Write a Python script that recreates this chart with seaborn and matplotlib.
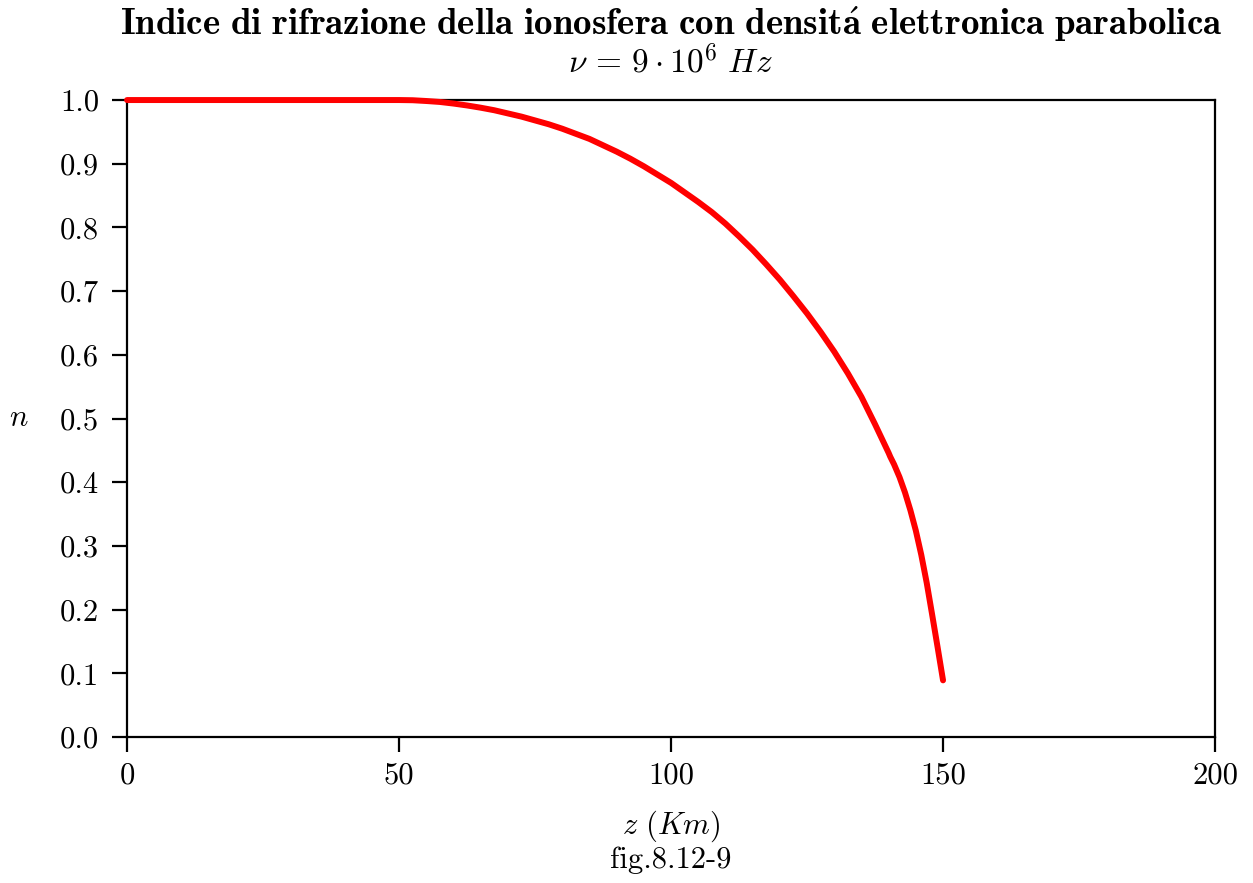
import matplotlib
matplotlib.use("Agg")
import matplotlib.pyplot as plt
import seaborn as sns
import pandas as pd

# Refractive index of the ionosphere vs. height (parabolic electron density)
z_km = [0, 50, 52.5, 55, 57.5, 60, 62.5, 65, 67.5, 70, 72.5, 75, 77.5, 80,
        82.5, 85, 87.5, 90, 92.5, 95, 97.5, 100, 102.5, 105, 107.5, 110,
        112.5, 115, 117.5, 120, 122.5, 125, 127.5, 130, 132.5, 135, 137.5,
        140, 140.3, 141, 142, 143, 144, 145, 146, 147, 148, 149, 150]
n_idx = [1.0, 1.0, 0.9997, 0.9985, 0.997, 0.9945, 0.9915, 0.988, 0.984,
         0.979, 0.974, 0.968, 0.962, 0.955, 0.947, 0.939, 0.929, 0.919,
         0.908, 0.896, 0.883, 0.870, 0.855, 0.840, 0.824, 0.806, 0.786,
         0.765, 0.742, 0.718, 0.692, 0.665, 0.636, 0.605, 0.571, 0.534,
         0.491, 0.446, 0.440, 0.428, 0.408, 0.384, 0.356, 0.324, 0.286,
         0.242, 0.192, 0.141, 0.089]

title = (r"$\mathbf{Indice\ di\ rifrazione\ della\ ionosfera\ con\ "
         r"densit\acute{a}\ elettronica\ parabolica}$")
subtitle = r"$\nu\,=\,9 \cdot 10^6\ Hz$"
xlabel = "$z\\ (Km)$\nfig.8.12-9"
ylabel = "$n$"
x_ticks = [0, 50, 100, 150, 200]
y_ticks = [0.0, 0.1, 0.2, 0.3, 0.4, 0.5, 0.6, 0.7, 0.8, 0.9, 1.0]

sns.set_style("ticks")
plt.rcParams["font.family"] = ["cmr10", "DejaVu Serif"]
plt.rcParams["mathtext.fontset"] = "cm"
plt.rcParams["axes.formatter.use_mathtext"] = True
plt.rcParams["axes.unicode_minus"] = False
plt.rcParams["text.color"] = "black"
plt.rcParams["axes.labelcolor"] = "black"

df = pd.DataFrame({"z": z_km, "n": n_idx})

fig = plt.figure(figsize=(12.53, 8.83), dpi=100)
ax = fig.add_axes([0.1014, 0.1653, 0.8683, 0.7214])

sns.lineplot(data=df, x="z", y="n", ax=ax, color="#ff0000", linewidth=4.3,
             clip_on=False, zorder=5)

ax.set_xlim(0, 200)
ax.set_ylim(0, 1.0)
ax.set_xticks(x_ticks)
ax.set_xticklabels([str(v) for v in x_ticks])
ax.set_yticks(y_ticks)
ax.set_yticklabels([f"{v:.1f}" for v in y_ticks])

for s in ax.spines.values():
    s.set_linewidth(1.6)
    s.set_color("black")
    s.set_visible(True)

ax.tick_params(axis="both", direction="out", length=11, width=1.6,
               labelsize=22, colors="black")
ax.tick_params(axis="y", pad=9)
ax.tick_params(axis="x", pad=7)

ax.set_xlabel(xlabel, fontsize=22, labelpad=14, linespacing=1.1)
ax.set_ylabel(ylabel, fontsize=22, rotation=0, labelpad=30, va="center")

ax.set_title(subtitle, fontsize=24, pad=20, color="black")
fig.text(0.5355, 0.973, title, ha="center", va="center", fontsize=26.6,
         color="black")

fig.savefig("out.png", dpi=100, facecolor="white")
